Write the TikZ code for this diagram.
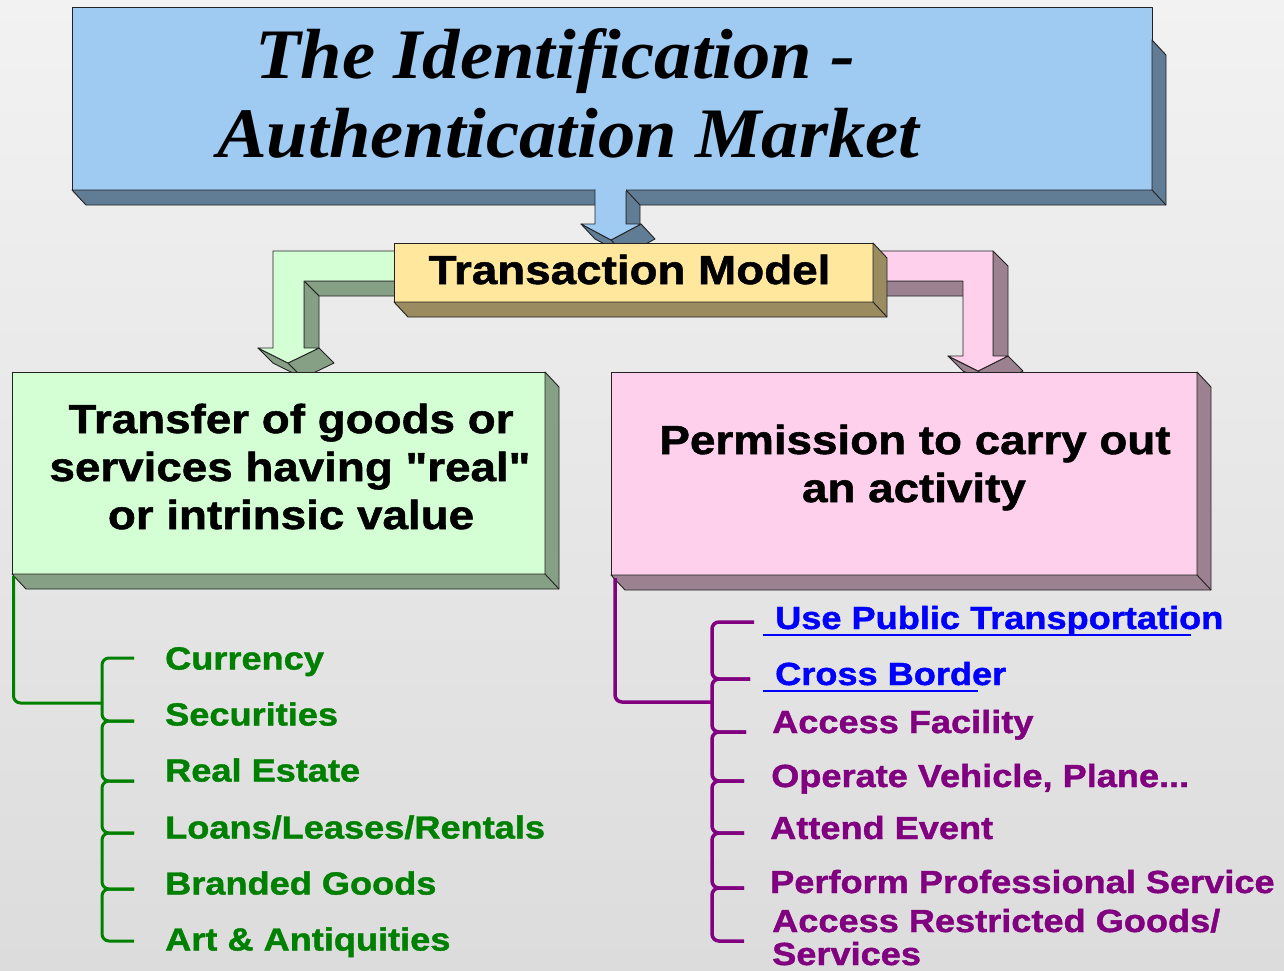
\documentclass[tikz,border=0pt]{standalone}
\usepackage{fontspec}
\setmainfont{Liberation Sans}
\newfontfamily\boxfont{Liberation Sans Bold}[FakeStretch=1.13,FakeBold=1.3]
\newfontfamily\titlefont{Liberation Serif Bold Italic}[FakeStretch=1.05]
\definecolor{bgtop}{HTML}{F2F2F2}
\definecolor{bgbot}{HTML}{DCDCDC}
\definecolor{edge}{HTML}{222222}
\definecolor{tblue}{HTML}{9FCAF2}
\definecolor{tbluedk}{HTML}{617C95}
\definecolor{tyel}{HTML}{FFE89E}
\definecolor{tyeldk}{HTML}{9B8B60}
\definecolor{tgrn}{HTML}{D4FFD4}
\definecolor{tgrndk}{HTML}{85A085}
\definecolor{tpnk}{HTML}{FFD0EB}
\definecolor{tpnkdk}{HTML}{9C8290}
\definecolor{igreen}{HTML}{008000}
\definecolor{iblue}{HTML}{0000FF}
\definecolor{ipurple}{HTML}{800080}
\newcommand\mydepth[3]{%
  \filldraw[face, fill=#2] (#1.south west) -- ([shift={(14,15)}]#1.south west)
    -- ([shift={(14,15)}]#1.south east) -- ([shift={(14,15+#3)}]#1.north east)
    -- ([shift={(0,#3)}]#1.north east) -- (#1.south east) -- cycle;
  \draw[face] (#1.south east) -- ([shift={(14,15)}]#1.south east);
}
\begin{document}
\begin{tikzpicture}[x=1pt,y=-1pt,
  face/.style={draw=edge, line width=0.9pt, line join=round},
  front/.style={face, rectangle, inner sep=0pt, outer sep=0pt},
  titletxt/.style={font=\titlefont\fontsize{71pt}{78pt}\selectfont, anchor=base west, inner sep=0pt},
  boxtxt/.style={font=\boxfont\fontsize{40.5pt}{48pt}\selectfont, anchor=base, inner sep=0pt},
  item/.style={font=\boxfont\fontsize{32pt}{36pt}\selectfont, anchor=base west, inner sep=0pt},
  gitem/.style={item, text=igreen},
  pitem/.style={item, text=ipurple},
  bitem/.style={item, text=iblue},
  gline/.style={draw=igreen, line width=3pt, rounded corners=7pt},
  pline/.style={draw=ipurple, line width=3.5pt, rounded corners=7pt},
  uline/.style={draw=iblue, line width=2pt}]
\useasboundingbox (0,0) rectangle (1284,970);
\shade[top color=bgtop, bottom color=bgbot] (0,0) rectangle (1284,970);

% ---- title box
\node[front, fill=tblue, minimum width=1080pt, minimum height=183pt] (title) at (612,98.5) {};
\mydepth{title}{tbluedk}{33}
\node[titletxt] (t1) at (255,78) {The Identification -};
\node[titletxt] (t2) at (217,157) {Authentication Market};

% ---- blue arrow (title -> transaction model)
\filldraw[face, fill=tbluedk] (626,190) -- (640,205) -- (640,239) -- (626,224) -- cycle;
\filldraw[face, fill=tbluedk] (641,224) -- (655,239) -- (625,255) -- (611,240) -- cycle;
\filldraw[face, fill=tbluedk] (581,224) -- (611,240) -- (625,255) -- (595,239) -- cycle;
\filldraw[face, fill=tblue] (595,190) -- (595,224) -- (581,224) -- (611,240) -- (641,224) -- (626,224) -- (626,190);
\fill[tblue] (596,189) rectangle (625.5,191);

% ---- green arrow (left)
\filldraw[face, fill=tgrndk] (400,281) -- (304,281) -- (319,296) -- (400,296) -- cycle;
\filldraw[face, fill=tgrndk] (304,281) -- (319,296) -- (319,363) -- (304,348) -- cycle;
\filldraw[face, fill=tgrndk] (258,348) -- (288,363) -- (303,378) -- (273,363) -- cycle;
\filldraw[face, fill=tgrndk] (288,363) -- (319,348) -- (334,363) -- (303,378) -- cycle;
\filldraw[face, fill=tgrn] (400,251) -- (273,251) -- (273,348) -- (258,348) -- (288,363)
  -- (319,348) -- (304,348) -- (304,281) -- (400,281);

% ---- pink arrow (right)
\filldraw[face, fill=tpnkdk] (868,281) -- (963,281) -- (978,296) -- (868,296) -- cycle;
\filldraw[face, fill=tpnkdk] (993,251) -- (1008,266) -- (1008,371) -- (993,356) -- cycle;
\filldraw[face, fill=tpnkdk] (1008,356) -- (1023,371) -- (993,386) -- (978,371) -- cycle;
\filldraw[face, fill=tpnkdk] (948,356) -- (978,371) -- (993,386) -- (963,371) -- cycle;
\filldraw[face, fill=tpnk] (868,251) -- (993,251) -- (993,356) -- (1008,356) -- (978,371)
  -- (948,356) -- (963,356) -- (963,281) -- (868,281);

% ---- transaction model box
\node[front, fill=tyel, minimum width=479pt, minimum height=59pt] (tm) at (633.5,272.5) {};
\mydepth{tm}{tyeldk}{0}
\node[boxtxt] (tmt) at (629.5,284) {Transaction Model};

% ---- green box
\node[front, fill=tgrn, minimum width=533pt, minimum height=202pt] (gbox) at (278.5,473) {};
\mydepth{gbox}{tgrndk}{0}
\node[boxtxt] (g1) at (291,433) {Transfer of goods or};
\node[boxtxt] (g2) at (290,481) {services having "real"};
\node[boxtxt] (g3) at (291,529) {or intrinsic value};

% ---- pink box
\node[front, fill=tpnk, minimum width=586pt, minimum height=203pt] (pbox) at (904,473.5) {};
\mydepth{pbox}{tpnkdk}{0}
\node[boxtxt] (p1) at (915,454) {Permission to carry out};
\node[boxtxt] (p2) at (914,502) {an activity};

% ---- left list
\coordinate (lj) at (102,703);
\foreach \n/\y in {1/658,2/721,3/781,4/833,5/889,6/941}
  \coordinate (lt\n) at (134,\y);
\draw[gline] ([shift={(1.5,2)}]gbox.south west) |- (lj);
\foreach \a/\b/\y in {1/2/721,2/3/781,3/4/833,4/5/889,5/6/941}
  \draw[gline] (lt\a) -| (102,\y) -- (lt\b);
\node[gitem] (l1) at (165,669.5) {Currency};
\node[gitem] (l2) at (165,725.5) {Securities};
\node[gitem] (l3) at (165,781.5) {Real Estate};
\node[gitem] (l4) at (165,838.5) {Loans/Leases/Rentals};
\node[gitem] (l5) at (165,894.5) {Branded Goods};
\node[gitem] (l6) at (165,950.5) {Art \& Antiquities};

% ---- right list
\coordinate (rj) at (712,702);
\foreach \n/\y/\e in {1/622/754,2/679/750,3/732/746,4/781/744,5/833/744,6/888/744,7/941/744}
  \coordinate (rt\n) at (\e,\y);
\draw[pline] ([shift={(4,3)}]pbox.south west) |- (rj);
\foreach \a/\b/\y in {1/2/679,2/3/732,3/4/781,4/5/833,5/6/888,6/7/941}
  \draw[pline] (rt\a) -| (712,\y) -- (rt\b);
\node[bitem] (r1) at (775,629) {Use Public Transportation};
\node[bitem] (r2) at (775,685) {Cross Border};
\node[pitem] (r3) at (772,733) {Access Facility};
\node[pitem] (r4) at (771,787) {Operate Vehicle, Plane...};
\node[pitem] (r5) at (770,839) {Attend Event};
\node[pitem] (r6) at (770,893) {Perform Professional Service};
\node[pitem] (r7) at (772,932) {Access Restricted Goods/};
\node[pitem] (r8) at (772,965) {Services};
\coordinate (u1a) at (763,635); \coordinate (u1b) at (1191,635);
\coordinate (u2a) at (763,691); \coordinate (u2b) at (978,691);
\draw[uline] (u1a) -- (u1b);
\draw[uline] (u2a) -- (u2b);
\end{tikzpicture}
\end{document}
